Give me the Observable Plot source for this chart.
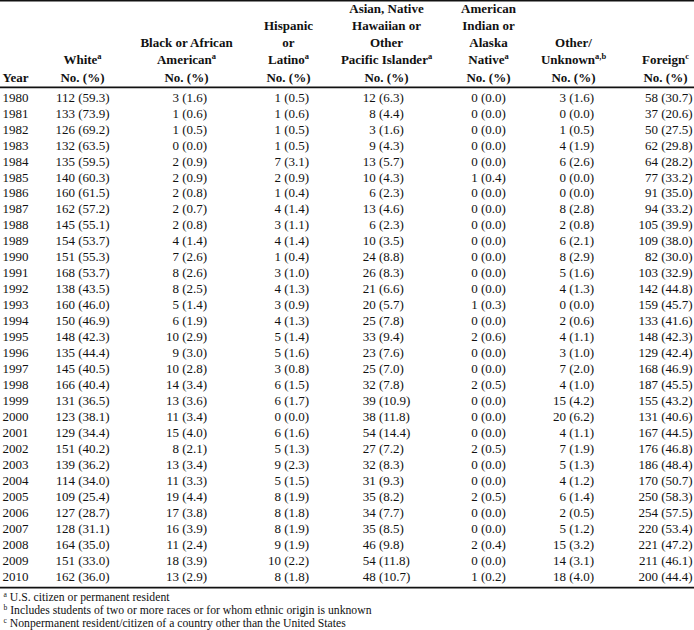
<!DOCTYPE html>
<html>
<head>
<meta charset="utf-8">
<script src="https://cdn.jsdelivr.net/npm/d3@7"></script>
<script src="https://cdn.jsdelivr.net/npm/@observablehq/plot@0.6"></script>
<style>
  html, body { margin: 0; padding: 0; background: #fff; }
  #chart svg { display: block; }
</style>
</head>
<body>
<div id="chart"></div>
<script>
// ---------- DATA ----------
const years = [1980,1981,1982,1983,1984,1985,1986,1987,1988,1989,1990,1991,1992,1993,1994,1995,1996,1997,1998,1999,2000,2001,2002,2003,2004,2005,2006,2007,2008,2009,2010];

const whiteN   = [112,133,126,132,135,140,160,162,145,154,151,168,138,160,150,148,135,145,166,131,123,129,151,139,114,109,127,128,164,151,162];
const whitePct = [59.3,73.9,69.2,63.5,59.5,60.3,61.5,57.2,55.1,53.7,55.3,53.7,43.5,46.0,46.9,42.3,44.4,40.5,40.4,36.5,38.1,34.4,40.2,36.2,34.0,25.4,28.7,31.1,35.0,33.0,36.0];

const blackN   = [3,1,1,0,2,2,2,2,2,4,7,8,8,5,6,10,9,10,14,13,11,15,8,13,11,19,17,16,11,18,13];
const blackPct = [1.6,0.6,0.5,0.0,0.9,0.9,0.8,0.7,0.8,1.4,2.6,2.6,2.5,1.4,1.9,2.9,3.0,2.8,3.4,3.6,3.4,4.0,2.1,3.4,3.3,4.4,3.8,3.9,2.4,3.9,2.9];

const hispN    = [1,1,1,1,7,2,1,4,3,4,1,3,4,3,4,5,5,3,6,6,0,6,5,9,5,8,8,8,9,10,8];
const hispPct  = [0.5,0.6,0.5,0.5,3.1,0.9,0.4,1.4,1.1,1.4,0.4,1.0,1.3,0.9,1.3,1.4,1.6,0.8,1.5,1.7,0.0,1.6,1.3,2.3,1.5,1.9,1.8,1.9,1.9,2.2,1.8];

const asianN   = [12,8,3,9,13,10,6,13,6,10,24,26,21,20,25,33,23,25,32,39,38,54,27,32,31,35,34,35,46,54,48];
const asianPct = [6.3,4.4,1.6,4.3,5.7,4.3,2.3,4.6,2.3,3.5,8.8,8.3,6.6,5.7,7.8,9.4,7.6,7.0,7.8,10.9,11.8,14.4,7.2,8.3,9.3,8.2,7.7,8.5,9.8,11.8,10.7];

const amindN   = [0,0,0,0,0,1,0,0,0,0,0,0,0,1,0,2,0,0,2,0,0,0,2,0,0,2,0,0,2,0,1];
const amindPct = [0.0,0.0,0.0,0.0,0.0,0.4,0.0,0.0,0.0,0.0,0.0,0.0,0.0,0.3,0.0,0.6,0.0,0.0,0.5,0.0,0.0,0.0,0.5,0.0,0.0,0.5,0.0,0.0,0.4,0.0,0.2];

const otherN   = [3,0,1,4,6,0,0,8,2,6,8,5,4,0,2,4,3,7,4,15,20,4,7,5,4,6,2,5,15,14,18];
const otherPct = [1.6,0.0,0.5,1.9,2.6,0.0,0.0,2.8,0.8,2.1,2.9,1.6,1.3,0.0,0.6,1.1,1.0,2.0,1.0,4.2,6.2,1.1,1.9,1.3,1.2,1.4,0.5,1.2,3.2,3.1,4.0];

const foreignN   = [58,37,50,62,64,77,91,94,105,109,82,103,142,159,133,148,129,168,187,155,131,167,176,186,170,250,254,220,221,211,200];
const foreignPct = [30.7,20.6,27.5,29.8,28.2,33.2,35.0,33.2,39.9,38.0,30.0,32.9,44.8,45.7,41.6,42.3,42.4,46.9,45.5,43.2,40.6,44.5,46.8,48.4,50.7,58.3,57.5,53.4,47.2,46.1,44.4];

// column headers ("^x" marks a superscript footnote reference)
const headers = [
  "Year",
  "White^a\nNo. (%)",
  "Black or African\nAmerican^a\nNo. (%)",
  "Hispanic\nor\nLatino^a\nNo. (%)",
  "Asian, Native\nHawaiian or\nOther\nPacific Islander^a\nNo. (%)",
  "American\nIndian or\nAlaska\nNative^a\nNo. (%)",
  "Other/\nUnknown^a,b\nNo. (%)",
  "Foreign^c\nNo. (%)"
];

const footnotes = [
  "^a U.S. citizen or permanent resident",
  "^b Includes students of two or more races or for whom ethnic origin is unknown",
  "^c Nonpermanent resident/citizen of a country other than the United States"
];

// ---------- LAYOUT (not data) ----------
const FONT = 13;                     // px
const colX = [2, 82, 186, 288, 386, 488, 573, 665];   // x range for column index 0..7
const rowFirst = 97, rowLast = 576;  // y of first / last data row
const headerRow = -1, topRule = -6.08, headRule = -0.63, bottomRule = 30.7;
const footRows = [31.33, 32.14, 32.95];

// ---------- BUILD CELLS ----------
const groups = [
  [whiteN, whitePct], [blackN, blackPct], [hispN, hispPct], [asianN, asianPct],
  [amindN, amindPct], [otherN, otherPct], [foreignN, foreignPct]
];

const counts = [], pcts = [];
groups.forEach(([ns, ps], g) => {
  const col = g + 1;
  const pStr = ps.map(p => `(${p.toFixed(1)})`);
  // widths in em (Times-like metrics: digit .5, paren .333, period .25)
  const cw = d3.max(ns, n => String(n).length * 0.5);
  const pw = d3.max(ps, p => p.toFixed(1).replace(".", "").length * 0.5 + 0.25 + 0.667);
  const split = (cw - pw) / 2 * FONT;   // centre the block under the header
  ns.forEach((n, r) => {
    counts.push({col, row: r, text: String(n), dx: split - 0.125 * FONT});
    pcts.push({col, row: r, text: pStr[r], dx: split + 0.125 * FONT});
  });
});

const yearCells = years.map((y, r) => ({col: 0, row: r, text: String(y)}));
const headCells = headers.map((h, i) => ({col: i, text: h}));

const plot = Plot.plot({
  width: 694,
  height: 630,
  margin: 0,
  style: {fontFamily: "'Liberation Serif', 'Times New Roman', Times, serif", fontSize: FONT + "px", color: "#111", background: "#fff"},
  x: {type: "linear", domain: d3.range(8), range: colX, axis: null},
  y: {type: "linear", domain: [0, years.length - 1], range: [rowFirst, rowLast], axis: null},
  marks: [
    // rules
    Plot.ruleY([topRule], {stroke: "#111", strokeWidth: 2.2}),
    Plot.ruleY([headRule], {stroke: "#111", strokeWidth: 1.8}),
    Plot.ruleY([bottomRule], {stroke: "#111", strokeWidth: 1.8}),
    // headers
    Plot.text(headCells.slice(0, 1), {x: "col", y: () => headerRow, text: "text", textAnchor: "start", lineAnchor: "bottom", fontWeight: "bold", fontSize: FONT}),
    Plot.text(headCells.slice(1), {x: "col", y: () => headerRow, text: "text", textAnchor: "middle", lineAnchor: "bottom", fontWeight: "bold", fontSize: FONT, lineHeight: 1.32}),
    // year column
    Plot.text(yearCells, {x: "col", y: "row", text: "text", textAnchor: "start", fontSize: FONT}),
    // counts (right aligned) and percentages (left aligned)
    ...d3.groups(counts, d => d.dx).map(([dx, cells]) =>
      Plot.text(cells, {x: "col", y: "row", text: "text", textAnchor: "end", dx, fontSize: FONT})),
    ...d3.groups(pcts, d => d.dx).map(([dx, cells]) =>
      Plot.text(cells, {x: "col", y: "row", text: "text", textAnchor: "start", dx, fontSize: FONT})),
    // footnotes
    Plot.text(footnotes, {x: () => 0, y: (d, i) => footRows[i], text: d => d, textAnchor: "start", fontSize: 11.7, dx: 1})
  ]
});

// turn "^x" markers into real superscript tspans
function applySup(root) {
  root.querySelectorAll("text, tspan").forEach(el => {
    if (el.children.length) return;
    const s = el.textContent;
    if (!s.includes("^")) return;
    el.textContent = "";
    s.split(/\^([a-z,]+)/).forEach((p, i) => {
      if (!p) return;
      if (i % 2 === 1) {
        const t = document.createElementNS("http://www.w3.org/2000/svg", "tspan");
        t.setAttribute("baseline-shift", "super");
        t.setAttribute("font-size", "65%");
        t.textContent = p;
        el.appendChild(t);
      } else {
        el.appendChild(document.createTextNode(p));
      }
    });
  });
}
applySup(plot);
document.getElementById("chart").appendChild(plot);
</script>
</body>
</html>
